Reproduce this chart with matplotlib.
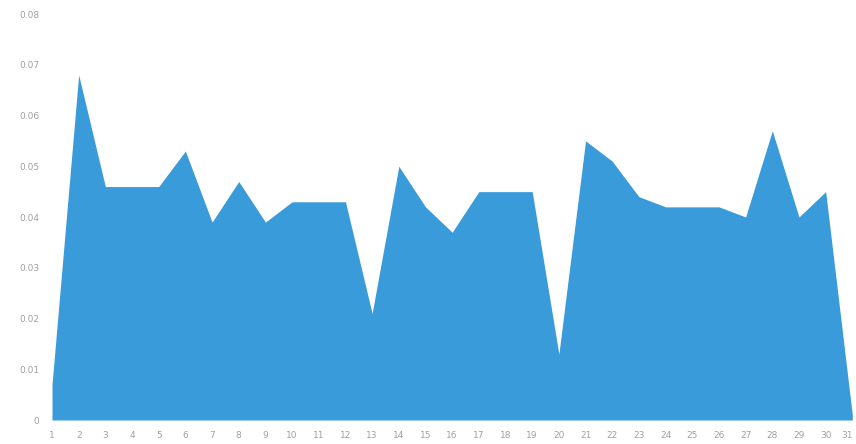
import matplotlib
matplotlib.use("Agg")
import matplotlib.pyplot as plt
from matplotlib.ticker import FixedLocator, FixedFormatter

days = list(range(1, 32))
values = [0.007, 0.068, 0.046, 0.046, 0.046, 0.053, 0.039, 0.047, 0.039, 0.043,
          0.043, 0.043, 0.021, 0.050, 0.042, 0.037, 0.045, 0.045, 0.045, 0.013,
          0.055, 0.051, 0.044, 0.042, 0.042, 0.042, 0.040, 0.057, 0.040, 0.045,
          0.001]
y_ticks = [0, 0.01, 0.02, 0.03, 0.04, 0.05, 0.06, 0.07, 0.08]
y_labels = ["0", "0.01", "0.02", "0.03", "0.04", "0.05", "0.06", "0.07", "0.08"]
x_labels = [str(d) for d in days]

fig = plt.figure(figsize=(8.56, 4.44), dpi=100)
ax = fig.add_axes([52/856, 24/444, (855-52)/856, (420-14)/444])
ax.fill_between(days, values, 0, color="#3A9BDA", linewidth=0)
ax.set_xlim(1, 31.1)
ax.set_ylim(0, 0.08)
ax.yaxis.set_major_locator(FixedLocator(y_ticks))
ax.yaxis.set_major_formatter(FixedFormatter(y_labels))
ax.set_xticks(days)
ax.set_xticklabels(x_labels)
ax.get_xticklabels()[-1].set_horizontalalignment("right")
for s in ax.spines.values():
    s.set_visible(False)
ax.tick_params(axis="both", length=0, labelsize=6.5, labelcolor="#a0a0a0")
ax.tick_params(axis="y", pad=9)
ax.tick_params(axis="x", pad=8)
fig.savefig("out.png", dpi=100)
